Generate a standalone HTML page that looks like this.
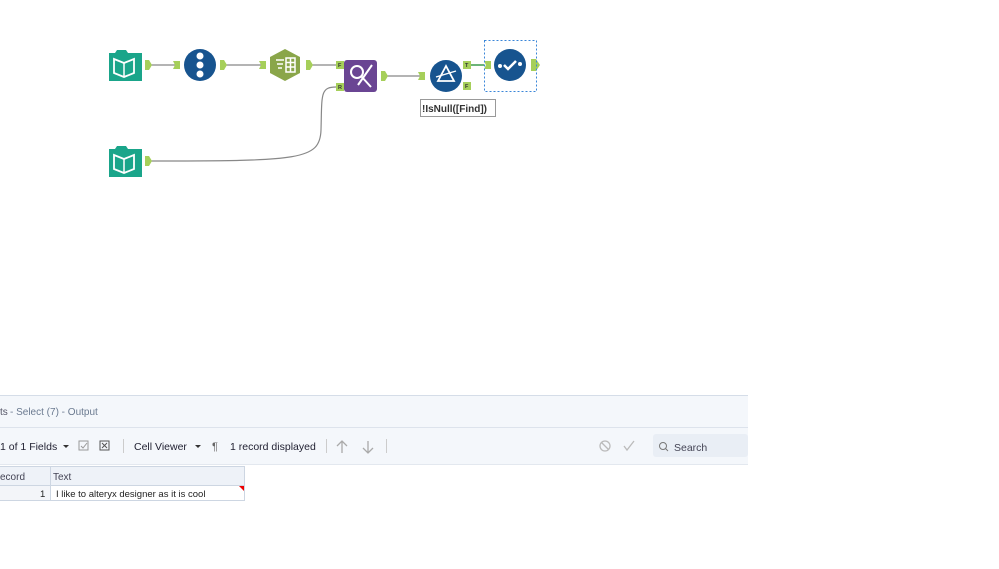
<!DOCTYPE html>
<html><head><style>
body{margin:0;width:999px;height:564px;background:#fff;overflow:hidden;font-family:"Liberation Sans",sans-serif}
</style></head><body>
<svg width="999" height="564" viewBox="0 0 999 564" xmlns="http://www.w3.org/2000/svg" font-family="Liberation Sans, sans-serif">
<!-- results panel -->
<rect x="0" y="395" width="748" height="70" fill="#f4f7fb"/>
<line x1="0" y1="395.5" x2="748" y2="395.5" stroke="#d5dde8"/>
<line x1="0" y1="427.5" x2="748" y2="427.5" stroke="#dde3ec"/>
<line x1="0" y1="464.5" x2="748" y2="464.5" stroke="#e3e8ef"/>
<text x="0" y="415" font-size="10" fill="#556">ts</text>
<text x="10" y="415" font-size="10" fill="#6b7a90">- Select (7) - Output</text>
<text x="0" y="450" font-size="10.5" fill="#223">1 of 1 Fields</text>
<path d="M63 445 l3 3 l3 -3z" fill="#333"/>
<rect x="79" y="441" width="9" height="9" fill="none" stroke="#999"/>
<path d="M81 446 l2 2 l4 -5" stroke="#999" fill="none"/>
<rect x="100" y="441" width="9" height="9" fill="none" stroke="#555"/>
<path d="M102 443 l5 5 M107 443 l-5 5" stroke="#555"/>
<line x1="123.5" y1="439" x2="123.5" y2="453" stroke="#ccc"/>
<text x="134" y="450" font-size="10.5" fill="#223">Cell Viewer</text>
<path d="M195 445 l3 3 l3 -3z" fill="#333"/>
<text x="212" y="450" font-size="11" fill="#666">¶</text>
<text x="230" y="450" font-size="10.5" fill="#223">1 record displayed</text>
<line x1="326.5" y1="439" x2="326.5" y2="453" stroke="#ccc"/>
<path d="M342 453 v-12 M337 446 l5 -5 l5 5" stroke="#aaa" stroke-width="1.3" fill="none"/>
<path d="M368 441 v12 M363 448 l5 5 l5 -5" stroke="#aaa" stroke-width="1.3" fill="none"/>
<line x1="386.5" y1="439" x2="386.5" y2="453" stroke="#ccc"/>
<circle cx="605" cy="446" r="5" fill="none" stroke="#bbb" stroke-width="1.3"/>
<path d="M601.5 442.5 l7 7" stroke="#bbb" stroke-width="1.3"/>
<path d="M624 446 l3 4 l7 -9" stroke="#bbb" stroke-width="1.3" fill="none"/>
<rect x="653" y="434" width="95" height="23" rx="3" fill="#e9eef5"/>
<circle cx="663" cy="446" r="3.5" fill="none" stroke="#777"/>
<path d="M665.5 448.5 l2.5 2.5" stroke="#777"/>
<text x="674" y="451" font-size="10.5" fill="#445">Search</text>
<!-- table -->
<rect x="0" y="466" width="245" height="19" fill="#eef2f8"/>
<rect x="0" y="485" width="50" height="15" fill="#f3f5f9"/>
<path d="M0 466.5 H245 M0 485.5 H245 M0 500.5 H245 M50.5 466 V500 M244.5 466 V500" stroke="#cdd6e2" fill="none"/>
<text x="0" y="480" font-size="10" fill="#445">ecord</text>
<text x="53" y="480" font-size="10" fill="#445">Text</text>
<text x="40" y="497" font-size="9.5" fill="#222">1</text>
<text x="56" y="497" font-size="9.5" fill="#222">I like to alteryx designer as it is cool</text>
<path d="M239 486 h5 v5z" fill="#e00"/>
<!-- connectors -->
<g stroke="#888" stroke-width="1.2" fill="none">
<path d="M150 65 H176"/><path d="M225 65 H262"/><path d="M311 65 H336"/>
<path d="M386 76 H421"/>
<path d="M150 161 C300 161 320 160 321 130 C322 95 320 87 336 87"/>
</g>
<path d="M471 65 H484" stroke="#3a9a4a" stroke-width="1.5"/>
<!-- anchors -->
<g fill="#a6cf5a">
<path d="M145 60 h4 l3 5 l-3 5 h-4z"/><path d="M173 61 h7 v8 h-7 l2 -4z"/>
<path d="M220 60 h4 l3 5 l-3 5 h-4z"/><path d="M259 61 h7 v8 h-7 l2 -4z"/>
<path d="M306 60 h4 l3 5 l-3 5 h-4z"/><rect x="336" y="61" width="8" height="8"/>
<rect x="336" y="83" width="8" height="8"/>
<path d="M381 71 h4 l3 5 l-3 5 h-4z"/><path d="M418 72 h7 v8 h-7 l2 -4z"/>
<rect x="463" y="61" width="8" height="8"/><rect x="463" y="82" width="8" height="8"/>
<path d="M484 61 h7 v8 h-7 l2 -4z"/>
<path d="M531 59 h5 l4 6 l-4 6 h-5z"/>
<path d="M145 156 h4 l3 5 l-3 5 h-4z"/>
</g>
<g font-size="5.5" font-weight="bold" fill="#333"><text x="338" y="67">F</text><text x="338" y="89">R</text><text x="465" y="67">T</text><text x="465" y="88">F</text></g>
<!-- input tools -->
<g>
<path d="M109 53 h6 l2 -3 h9 l2 3 h14 v28 h-33z" fill="#1aa58a"/>
<path d="M114 59 l10 4 l10 -4 v14 l-10 4 l-10 -4z" fill="none" stroke="#fff" stroke-width="1.8"/>
<path d="M124 63 v14" stroke="#fff" stroke-width="1.5"/>
<path d="M109 149 h6 l2 -3 h9 l2 3 h14 v28 h-33z" fill="#1aa58a"/>
<path d="M114 155 l10 4 l10 -4 v14 l-10 4 l-10 -4z" fill="none" stroke="#fff" stroke-width="1.8"/>
<path d="M124 159 v14" stroke="#fff" stroke-width="1.5"/>
</g>
<!-- record id -->
<circle cx="200" cy="65" r="16" fill="#17548f"/>
<g fill="#fff"><circle cx="200" cy="56" r="3.5"/><circle cx="200" cy="65" r="3.5"/><circle cx="200" cy="74" r="3.5"/></g>
<!-- text to columns hexagon -->
<path d="M285 49 L300 57 V73 L285 81 L270 73 V57z" fill="#8aa64a"/>
<g stroke="#fff" stroke-width="1.5"><path d="M276 60 h8 M277 64 h6 M278 68 h4"/><rect x="286" y="58" width="9" height="14" fill="none"/><path d="M286 62.5 h9 M286 67 h9 M290.5 58 v14"/></g>
<!-- find replace -->
<rect x="344" y="60" width="33" height="32" rx="3" fill="#6a4593"/>
<circle cx="357" cy="72" r="6" fill="none" stroke="#fff" stroke-width="2"/>
<path d="M361 76 l10 11 M372 65 l-14 20" stroke="#fff" stroke-width="2"/>
<!-- filter -->
<circle cx="446" cy="76" r="16" fill="#17548f"/>
<path d="M446 66 l-8 15 h16z" fill="none" stroke="#fff" stroke-width="1.8"/>
<path d="M436 77 l20 -6" stroke="#fff" stroke-width="1.3"/>
<rect x="420.5" y="99.5" width="75" height="17" fill="#fff" stroke="#999"/>
<text x="422" y="112" font-size="10" font-weight="bold" fill="#333">!IsNull([Find])</text>
<!-- select -->
<rect x="484.5" y="40.5" width="52" height="51" fill="none" stroke="#3a86d8" stroke-dasharray="2,2"/>
<circle cx="510" cy="65" r="16" fill="#17548f"/>
<circle cx="500" cy="66" r="2" fill="#fff"/><circle cx="520" cy="64" r="2" fill="#fff"/>
<path d="M504 65 l4 4 l8 -8" stroke="#fff" stroke-width="2.5" fill="none"/>
</svg>
</body></html>
